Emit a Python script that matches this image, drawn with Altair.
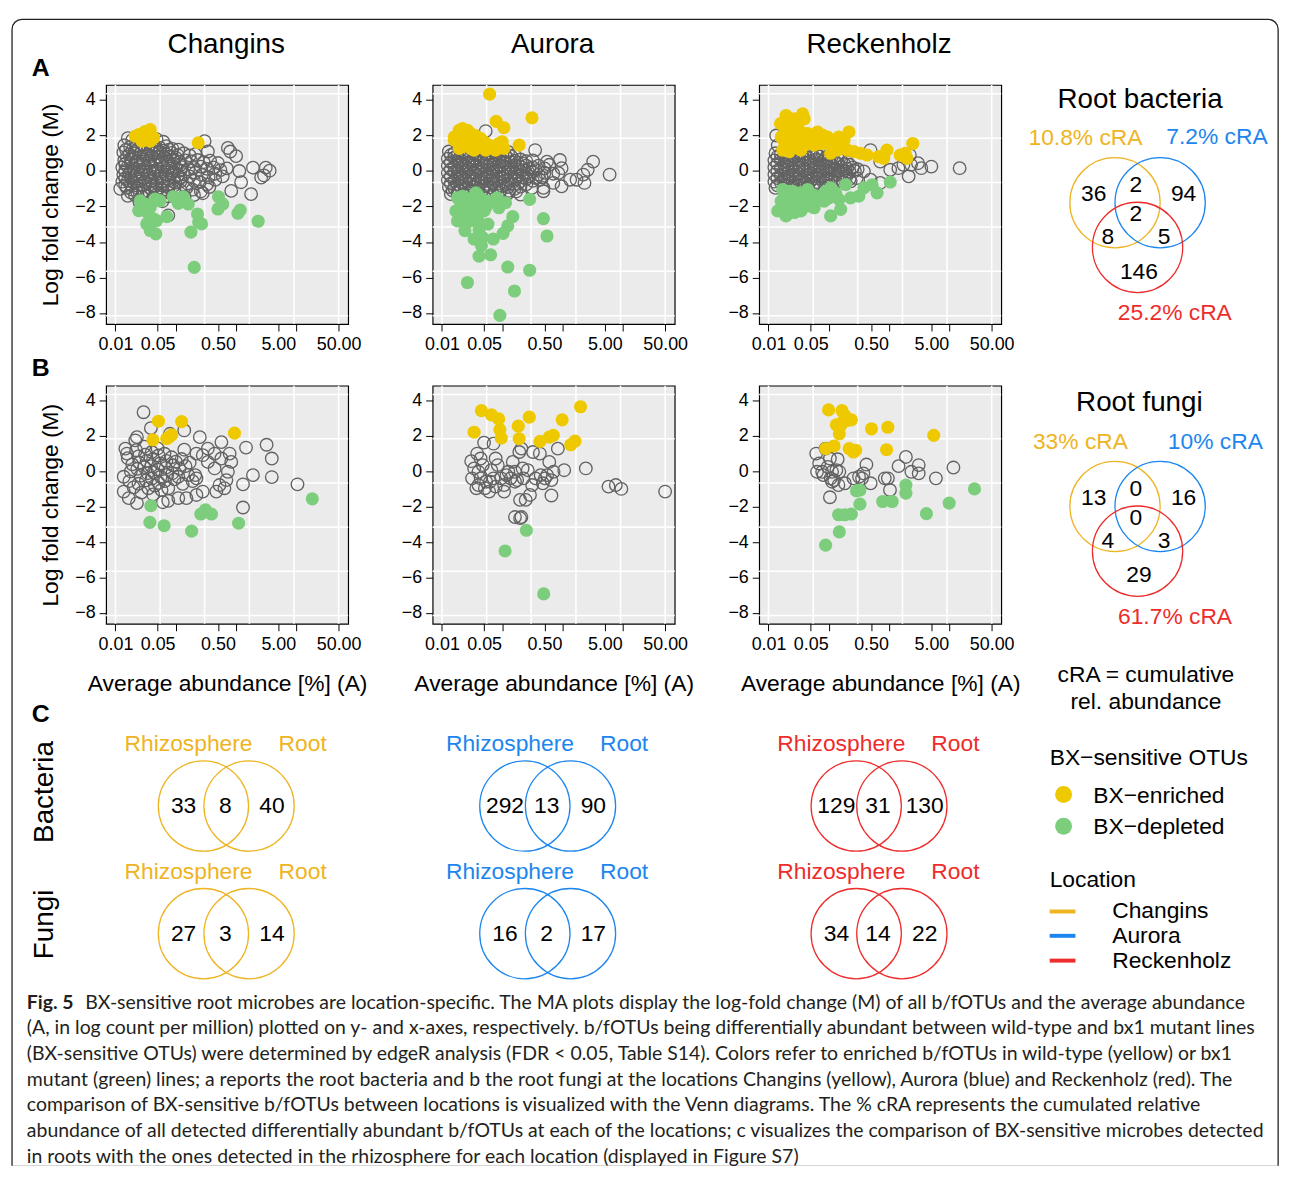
import altair as alt
import pandas as pd

FONT = "Liberation Sans, Arial, Helvetica, sans-serif"
CAP_FONT = "Lato, sans-serif"

# the page is photographed slightly reduced; K enlarges the layout to compensate
K = 1.0076

LOCATIONS = ["Changins", "Aurora", "Reckenholz"]
LOC_COLORS = ["#EEB422", "#1C86EE", "#EE2C2C"]
ENRICHED_COLOR = "#EEC900"
DEPLETED_COLOR = "#7CCD7C"
GRAY = "#626262"
PANEL_BG = "#EBEBEB"

# ---------------- axes of the MA plots ----------------
X_TICKS = [0.01, 0.05, 0.1, 0.5, 1, 5, 10, 50]
X_LABELED = "[0.01, 0.05, 0.5, 5, 50]"
Y_TICKS = [-8, -6, -4, -2, 0, 2, 4]
GRID_X = [0.01, 0.055, 0.30, 1.66, 9.1, 50]
GRID_Y = [-8.15, -5.65, -3.15, -0.65, 1.85, 4.35]
X_DOMAIN = [0.0070, 72]
Y_DOMAIN = [-8.62, 4.85]

# ---------------- A: root bacteria ----------------
A1_ENR = [(0.0243, 2.05), (0.031, 2.23), (0.0377, 2.33), (0.0275, 1.68), (0.0377, 1.68),
          (0.043, 1.87), (0.0213, 1.96), (0.2355, 1.59)]
A1_DEP = [(0.0258, -1.68), (0.0243, -2.23), (0.031, -1.86), (0.0377, -2.04), (0.0455, -1.58),
          (0.055, -1.68), (0.0354, -2.42), (0.043, -2.7), (0.048, -2.79), (0.033, -2.98),
          (0.0377, -3.35), (0.0467, -3.54), (0.071, -2.57), (0.091, -1.45), (0.110, -1.82),
          (0.133, -1.45), (0.161, -1.86), (0.229, -2.42), (0.24, -2.88), (0.267, -2.98),
          (0.178, -3.44), (0.202, -5.43), (0.51, -1.45), (0.6, -1.86), (0.5, -2.14),
          (1.07, -2.38), (1.17, -2.2), (2.32, -2.83)]
A1_GRAY = [
    (0.016, 1.85), (0.019, 1.75), (0.048, 1.8), (0.062, 1.65), (0.30, 1.68),
    (0.014, 1.45), (0.0175, 1.35), (0.022, 1.4), (0.028, 1.5), (0.035, 1.38), (0.044, 1.42), (0.055, 1.3),
    (0.07, 1.4), (0.088, 1.25), (0.11, 1.2), (0.73, 1.3), (0.8, 1.1),
    (0.0135, 1.05), (0.017, 0.95), (0.021, 1.0), (0.027, 1.08), (0.034, 0.92), (0.043, 1.0), (0.054, 1.05),
    (0.068, 0.95), (0.085, 1.02), (0.107, 0.9), (0.135, 1.0), (0.17, 0.88), (0.21, 0.95), (0.34, 1.1),
    (0.014, 0.6), (0.018, 0.65), (0.023, 0.55), (0.029, 0.62), (0.036, 0.58), (0.045, 0.66), (0.057, 0.55),
    (0.072, 0.6), (0.09, 0.64), (0.115, 0.52), (0.145, 0.6), (0.18, 0.55), (0.23, 0.62), (0.29, 0.5),
    (0.37, 0.58), (0.5, 0.45), (1.0, 0.84),
    (0.013, 0.2), (0.016, 0.25), (0.02, 0.15), (0.025, 0.22), (0.032, 0.18), (0.04, 0.26), (0.05, 0.12),
    (0.063, 0.2), (0.08, 0.24), (0.1, 0.15), (0.125, 0.22), (0.16, 0.1), (0.2, 0.18), (0.26, 0.25),
    (0.33, 0.12), (0.42, 0.2), (0.55, 0.05), (0.7, 0.15), (1.9, 0.19), (3.1, 0.19), (3.6, 0.02),
    (0.0135, -0.2), (0.017, -0.15), (0.021, -0.25), (0.027, -0.18), (0.034, -0.22), (0.043, -0.12),
    (0.054, -0.28), (0.068, -0.2), (0.085, -0.15), (0.107, -0.25), (0.135, -0.18), (0.17, -0.3),
    (0.21, -0.1), (0.27, -0.22), (0.35, -0.35), (0.45, -0.15), (0.6, -0.3), (1.13, 0.0), (2.6, -0.37),
    (2.9, -0.25),
    (0.013, -0.6), (0.016, -0.55), (0.02, -0.65), (0.025, -0.58), (0.031, -0.62), (0.039, -0.55),
    (0.049, -0.68), (0.062, -0.6), (0.078, -0.52), (0.098, -0.65), (0.12, -0.58), (0.155, -0.7),
    (0.2, -0.55), (0.25, -0.62), (0.33, -0.75), (0.45, -0.5), (1.21, -0.63),
    (0.012, -1.0), (0.0155, -0.95), (0.019, -1.05), (0.024, -0.98), (0.03, -1.1), (0.038, -0.95),
    (0.048, -1.02), (0.06, -1.08), (0.075, -0.92), (0.095, -1.0), (0.12, -1.1), (0.15, -0.95),
    (0.19, -1.05), (0.26, -1.15), (0.36, -0.9), (0.83, -1.12),
    (0.016, -1.4), (0.021, -1.35), (0.027, -1.45), (0.034, -1.38), (0.044, -1.5), (0.056, -1.35),
    (0.075, -1.42), (0.1, -1.3), (0.14, -1.45), (0.2, -1.35), (0.28, -1.25), (1.77, -1.3),
    (0.025, -1.75), (0.06, -1.7), (0.075, -2.5),
    (0.015, 1.2), (0.019, 1.18), (0.024, 1.25), (0.031, 1.2), (0.039, 1.15), (0.049, 1.22), (0.062, 1.15),
    (0.078, 1.2),
    (0.0155, 0.8), (0.0195, 0.82), (0.025, 0.78), (0.032, 0.8), (0.04, 0.85), (0.05, 0.78), (0.064, 0.8),
    (0.08, 0.82), (0.1, 0.75),
    (0.0145, 0.4), (0.018, 0.42), (0.023, 0.38), (0.029, 0.4), (0.037, 0.44), (0.046, 0.36), (0.058, 0.42),
    (0.074, 0.38), (0.093, 0.42), (0.12, 0.35),
    (0.0145, 0.0), (0.018, 0.02), (0.023, -0.04), (0.029, 0.03), (0.037, -0.02), (0.046, 0.04),
    (0.058, -0.03), (0.074, 0.02), (0.093, -0.04), (0.12, 0.03),
    (0.0145, -0.4), (0.018, -0.38), (0.023, -0.42), (0.029, -0.4), (0.037, -0.36), (0.046, -0.44),
    (0.058, -0.38), (0.074, -0.42), (0.093, -0.4), (0.12, -0.38),
    (0.0145, -0.8), (0.018, -0.78), (0.023, -0.82), (0.029, -0.8), (0.037, -0.76), (0.046, -0.84),
    (0.058, -0.8), (0.074, -0.78), (0.093, -0.82),
    (0.018, -1.2), (0.023, -1.22), (0.029, -1.18), (0.037, -1.24), (0.046, -1.2), (0.058, -1.22),
    (0.074, -1.2)]

A2_ENR = [(0.016, 1.92), (0.0193, 2.30), (0.0219, 2.39), (0.0264, 2.30), (0.030, 2.11), (0.0219, 1.92),
          (0.0193, 1.65), (0.016, 1.74), (0.034, 1.65), (0.0386, 1.92), (0.0438, 1.83), (0.0497, 1.65),
          (0.041, 1.37), (0.053, 1.18), (0.060, 1.46), (0.0726, 1.37), (0.0877, 1.55), (0.0995, 1.65),
          (0.106, 1.27), (0.0773, 1.18), (0.0219, 1.37), (0.030, 1.27), (0.034, 1.18), (0.0193, 1.27),
          (0.0264, 1.55), (0.045, 1.5), (0.0615, 4.33), (0.079, 2.8), (0.106, 2.44), (0.31, 3.0),
          (0.19, 1.46), (0.025, 2.0), (0.028, 1.75), (0.036, 2.0)]
A2_DEP = [(0.0181, -1.51), (0.0219, -1.42), (0.0264, -1.6), (0.0319, -1.51), (0.0386, -1.32),
          (0.0466, -1.6), (0.0564, -1.7), (0.0206, -1.88), (0.0249, -2.07), (0.030, -1.88),
          (0.0362, -2.16), (0.0438, -1.97), (0.053, -2.07), (0.060, -1.79), (0.017, -2.25),
          (0.0206, -2.44), (0.0264, -2.34), (0.034, -2.53), (0.0411, -2.34), (0.0497, -2.25),
          (0.0181, -2.81), (0.0233, -2.72), (0.030, -2.81), (0.0386, -2.72), (0.0362, -1.23),
          (0.0822, -1.51), (0.0934, -1.88), (0.113, -1.79), (0.0877, -2.07),
          (0.284, -1.6), (0.149, -2.57), (0.123, -3.09), (0.103, -3.51), (0.0577, -2.99),
          (0.0411, -3.31), (0.034, -3.83), (0.0466, -3.73), (0.0707, -3.83), (0.045, -4.2),
          (0.0411, -4.8), (0.064, -4.72), (0.123, -5.41), (0.284, -5.59), (0.48, -2.68),
          (0.55, -3.66), (0.024, -3.36), (0.0264, -6.28), (0.159, -6.76), (0.091, -8.13)]
A2_GRAY = [
    (0.053, 2.25), (0.35, 1.18),
    (0.013, 1.1), (0.016, 1.0), (0.02, 1.15), (0.025, 1.05), (0.032, 1.1), (0.04, 0.98), (0.05, 1.12),
    (0.063, 1.0), (0.08, 1.05), (0.1, 0.95), (0.125, 1.08), (0.16, 0.9),
    (0.0125, 0.7), (0.016, 0.75), (0.02, 0.65), (0.025, 0.72), (0.032, 0.6), (0.04, 0.75), (0.05, 0.68),
    (0.063, 0.62), (0.08, 0.72), (0.1, 0.6), (0.125, 0.7), (0.16, 0.58), (0.2, 0.65), (0.25, 0.55),
    (0.32, 0.6), (0.55, 0.53), (0.9, 0.62), (3.2, 0.53),
    (0.0125, 0.3), (0.016, 0.25), (0.02, 0.35), (0.025, 0.28), (0.032, 0.32), (0.04, 0.22), (0.05, 0.3),
    (0.063, 0.35), (0.08, 0.25), (0.1, 0.3), (0.125, 0.2), (0.16, 0.32), (0.2, 0.25), (0.25, 0.3),
    (0.32, 0.2), (0.4, 0.3), (0.5, 0.15), (0.6, 0.35), (0.96, 0.16), (2.6, 0.07),
    (0.0125, -0.1), (0.016, -0.05), (0.02, -0.15), (0.025, -0.08), (0.032, -0.12), (0.04, -0.02),
    (0.05, -0.15), (0.063, -0.1), (0.08, -0.05), (0.1, -0.15), (0.125, -0.08), (0.16, -0.12),
    (0.2, -0.02), (0.25, -0.15), (0.32, -0.05), (0.4, -0.2), (0.5, -0.1), (0.7, -0.15), (0.85, -0.12),
    (2.2, -0.2), (6.0, -0.2),
    (0.0125, -0.5), (0.016, -0.55), (0.02, -0.45), (0.025, -0.52), (0.032, -0.48), (0.04, -0.58),
    (0.05, -0.45), (0.063, -0.5), (0.08, -0.55), (0.1, -0.42), (0.125, -0.52), (0.16, -0.48),
    (0.2, -0.58), (0.25, -0.45), (0.32, -0.55), (0.42, -0.5), (0.7, -0.67), (1.33, -0.49),
    (1.7, -0.49), (2.3, -0.67),
    (0.013, -0.9), (0.016, -0.95), (0.02, -0.85), (0.025, -0.92), (0.032, -0.88), (0.04, -0.98),
    (0.05, -0.85), (0.063, -0.92), (0.08, -0.95), (0.1, -0.85), (0.125, -0.9), (0.16, -1.0),
    (0.2, -0.88), (0.31, -0.95), (0.48, -0.95), (0.96, -0.86),
    (0.014, -1.3), (0.018, -1.25), (0.023, -1.35), (0.03, -1.28), (0.04, -1.32), (0.055, -1.25),
    (0.07, -1.35), (0.09, -1.2), (0.12, -1.3), (0.2, -1.33), (0.48, -1.14),
    (0.014, 0.9), (0.018, 0.88), (0.022, 0.92), (0.028, 0.86), (0.036, 0.9), (0.045, 0.85), (0.056, 0.92),
    (0.07, 0.88), (0.09, 0.85), (0.112, 0.9), (0.14, 0.82),
    (0.014, 0.5), (0.018, 0.52), (0.022, 0.46), (0.028, 0.5), (0.036, 0.54), (0.045, 0.48), (0.056, 0.5),
    (0.07, 0.45), (0.09, 0.52), (0.112, 0.48), (0.14, 0.5), (0.18, 0.45), (0.22, 0.42),
    (0.014, 0.1), (0.018, 0.08), (0.022, 0.12), (0.028, 0.1), (0.036, 0.06), (0.045, 0.12), (0.056, 0.08),
    (0.07, 0.1), (0.09, 0.05), (0.112, 0.12), (0.14, 0.08), (0.18, 0.1), (0.22, 0.05), (0.28, 0.12),
    (0.36, 0.05),
    (0.014, -0.3), (0.018, -0.28), (0.022, -0.32), (0.028, -0.3), (0.036, -0.26), (0.045, -0.34),
    (0.056, -0.3), (0.07, -0.28), (0.09, -0.32), (0.112, -0.28), (0.14, -0.34), (0.18, -0.3),
    (0.22, -0.35), (0.28, -0.3), (0.36, -0.4), (0.45, -0.35),
    (0.014, -0.7), (0.018, -0.72), (0.022, -0.68), (0.028, -0.7), (0.036, -0.74), (0.045, -0.66),
    (0.056, -0.72), (0.07, -0.7), (0.09, -0.68), (0.112, -0.74), (0.14, -0.7), (0.18, -0.72),
    (0.25, -0.75),
    (0.015, -1.1), (0.019, -1.12), (0.024, -1.08), (0.03, -1.1), (0.038, -1.14), (0.048, -1.06),
    (0.06, -1.12), (0.075, -1.1), (0.095, -1.08), (0.13, -1.12), (0.17, -1.15)]

A3_ENR = [(0.0158, 2.67), (0.0195, 3.13), (0.0268, 2.94), (0.0367, 3.22), (0.0304, 2.67), (0.0236, 2.39),
          (0.0183, 2.11), (0.0162, 1.92), (0.0208, 1.83), (0.0268, 2.02), (0.0344, 2.2), (0.0444, 2.11),
          (0.0536, 1.92), (0.0648, 2.2), (0.0783, 2.02), (0.0946, 1.92), (0.0472, 1.55), (0.0344, 1.46),
          (0.0251, 1.37), (0.0195, 1.46), (0.0183, 1.65), (0.0304, 1.65), (0.0571, 1.46), (0.0735, 1.55),
          (0.107, 1.37), (0.147, 1.92), (0.178, 1.74), (0.215, 2.2), (0.122, 1.55), (0.138, 1.18),
          (0.107, 1.0), (0.202, 1.18), (0.26, 1.09), (0.334, 1.0), (0.43, 0.9), (0.67, 0.81),
          (0.918, 1.18), (0.81, 0.72), (1.52, 0.9), (1.84, 1.0), (1.96, 0.72), (2.46, 1.55),
          (0.0221, 1.09), (0.0172, 1.18), (0.0344, 1.18), (0.0391, 2.94), (0.0251, 2.57)]
A3_DEP = [(0.0142, -2.25), (0.0195, -2.53), (0.0162, -1.7), (0.0183, -1.32), (0.0221, -1.14),
          (0.0268, -1.51), (0.0304, -1.88), (0.0344, -1.23), (0.0391, -1.6), (0.0444, -1.04),
          (0.0536, -1.32), (0.0607, -1.7), (0.0735, -1.42), (0.0888, -1.14), (0.107, -0.95),
          (0.13, -1.23), (0.0268, -2.34), (0.0344, -2.25), (0.0444, -1.97), (0.0571, -2.07),
          (0.0208, -1.97), (0.0251, -1.14), (0.0172, -1.04), (0.0834, -1.7), (0.101, -1.51),
          (0.157, -2.16), (0.147, -1.6), (0.19, -0.77), (0.229, -1.51), (0.314, -1.42),
          (0.38, -0.95), (0.52, -0.77), (0.63, -1.23), (1.04, -0.62), (0.107, -2.53)]
A3_GRAY = [
    (0.0134, 2.0), (0.0142, 1.45),
    (0.013, 1.0), (0.016, 0.95), (0.02, 1.05), (0.025, 0.9), (0.032, 1.0), (0.04, 0.95), (0.05, 1.05),
    (0.063, 0.9), (0.08, 0.95), (0.1, 0.9), (0.49, 1.18),
    (0.0125, 0.6), (0.016, 0.65), (0.02, 0.55), (0.025, 0.62), (0.032, 0.58), (0.04, 0.65), (0.05, 0.55),
    (0.063, 0.62), (0.08, 0.58), (0.1, 0.65), (0.125, 0.55), (0.16, 0.6), (0.2, 0.52), (0.71, 0.53),
    (2.2, 0.9),
    (0.0125, 0.2), (0.016, 0.15), (0.02, 0.25), (0.025, 0.18), (0.032, 0.22), (0.04, 0.12), (0.05, 0.2),
    (0.063, 0.25), (0.08, 0.15), (0.1, 0.2), (0.125, 0.12), (0.16, 0.22), (0.2, 0.15), (0.25, 0.2),
    (0.3, 0.1), (1.42, 0.16), (1.72, 0.35), (2.3, 0.35), (3.0, 0.44), (3.4, 0.16), (5.0, 0.25),
    (14.7, 0.16),
    (0.0125, -0.2), (0.016, -0.25), (0.02, -0.15), (0.025, -0.22), (0.032, -0.18), (0.04, -0.25),
    (0.05, -0.15), (0.063, -0.2), (0.08, -0.28), (0.1, -0.15), (0.125, -0.22), (0.16, -0.18),
    (0.2, -0.25), (0.29, -0.4), (0.38, -0.02), (1.04, 0.07), (2.1, -0.3),
    (0.0125, -0.6), (0.016, -0.65), (0.02, -0.55), (0.025, -0.62), (0.032, -0.58), (0.04, -0.65),
    (0.05, -0.55), (0.063, -0.62), (0.08, -0.6), (0.1, -0.55), (0.13, -0.65), (0.17, -0.58),
    (0.23, -0.58), (0.49, -0.49), (0.71, -0.67),
    (0.013, -0.95), (0.018, -1.0), (0.025, -0.9), (0.035, -1.0), (0.045, -0.95), (0.06, -0.9),
    (0.014, 0.8), (0.018, 0.82), (0.022, 0.78), (0.028, 0.8), (0.036, 0.84), (0.045, 0.76), (0.056, 0.8),
    (0.07, 0.82), (0.09, 0.78), (0.112, 0.8), (0.14, 0.75),
    (0.014, 0.4), (0.018, 0.38), (0.022, 0.42), (0.028, 0.4), (0.036, 0.36), (0.045, 0.44), (0.056, 0.38),
    (0.07, 0.4), (0.09, 0.42), (0.112, 0.36), (0.14, 0.4), (0.18, 0.38), (0.22, 0.35),
    (0.014, 0.0), (0.018, 0.02), (0.022, -0.02), (0.028, 0.0), (0.036, 0.04), (0.045, -0.04), (0.056, 0.02),
    (0.07, 0.0), (0.09, -0.02), (0.112, 0.04), (0.14, 0.0), (0.18, 0.02), (0.22, -0.04), (0.27, 0.0),
    (0.014, -0.4), (0.018, -0.42), (0.022, -0.38), (0.028, -0.4), (0.036, -0.44), (0.045, -0.36),
    (0.056, -0.42), (0.07, -0.4), (0.09, -0.38), (0.112, -0.44), (0.14, -0.4), (0.18, -0.42),
    (0.22, -0.45),
    (0.014, -0.8), (0.018, -0.78), (0.022, -0.82), (0.028, -0.8), (0.036, -0.76), (0.045, -0.84),
    (0.056, -0.8), (0.07, -0.78), (0.09, -0.82), (0.11, -0.8)]

# ---------------- B: root fungi ----------------
B1_ENR = [(0.0516, 2.84), (0.125, 2.82), (0.0417, 1.79), (0.0707, 1.85), (0.0855, 2.07), (0.077, 1.94),
          (0.94, 2.17)]
B1_DEP = [(0.0386, -1.94), (0.0372, -2.88), (0.064, -3.07), (0.183, -3.38), (0.26, -2.41), (0.31, -2.17),
          (0.39, -2.41), (1.1, -2.93), (18.3, -1.55)]
B1_GRAY = [
    (0.0292, 3.35), (0.0386, 2.45), (0.0227, 1.94), (0.0213, 1.76), (0.138, 2.32), (0.08, 2.13),
    (0.25, 1.94), (0.57, 1.66), (1.46, 1.35), (3.2, 1.51), (3.9, 0.73), (3.9, -0.32), (10.4, -0.73),
    (1.3, -0.73), (1.3, -2.04), (1.9, -0.21), (0.138, 1.23), (0.34, 1.29), (0.44, 1.01), (0.57, 0.73),
    (0.78, 1.01), (0.83, 0.54), (0.73, -0.02), (0.69, -0.49), (0.53, -0.77), (0.64, -0.95), (0.47, -1.14),
    (0.44, 0.17), (0.34, 0.54), (0.28, 0.92), (0.22, 1.01), (0.21, -0.21), (0.22, -0.39), (0.28, -1.14),
    (0.22, -1.33), (0.15, -1.51), (0.11, -1.51), (0.075, -1.66), (0.061, -1.74), (0.0227, -1.79),
    (0.0166, -1.51), (0.0137, -1.14), (0.0137, -0.3), (0.0146, 1.29), (0.0155, 1.01),
    (0.016, 0.75), (0.019, 0.4), (0.018, 0.0), (0.017, -0.55), (0.02, -0.9), (0.022, 1.2), (0.024, 0.85),
    (0.025, 0.5), (0.023, 0.15), (0.026, -0.25), (0.024, -0.7), (0.027, -1.2), (0.03, 1.4), (0.031, 0.95),
    (0.033, 0.6), (0.03, 0.25), (0.034, -0.1), (0.032, -0.5), (0.035, -0.95), (0.04, 1.1), (0.042, 0.7),
    (0.039, 0.3), (0.043, -0.05), (0.04, -0.4), (0.045, -0.8), (0.042, -1.3), (0.05, 1.3), (0.052, 0.9),
    (0.055, 0.45), (0.05, 0.1), (0.056, -0.3), (0.052, -0.65), (0.058, -1.05), (0.065, 1.0), (0.07, 0.6),
    (0.068, 0.2), (0.072, -0.2), (0.066, -0.55), (0.075, -0.95), (0.085, 0.8), (0.09, 0.35), (0.088, -0.1),
    (0.095, -0.45), (0.1, 0.55), (0.115, 0.15), (0.11, -0.3), (0.125, 0.7), (0.13, -0.7), (0.145, 0.3),
    (0.16, -0.2), (0.17, 0.5), (0.19, -0.55)]

B2_ENR = [(0.034, 2.22), (0.045, 3.44), (0.066, 3.2), (0.087, 2.97), (0.091, 2.37), (0.096, 1.89),
          (0.184, 2.56), (0.19, 1.85), (0.28, 3.07), (0.42, 1.7), (0.6, 1.94), (0.7, 2.04), (0.98, 2.92),
          (1.36, 1.51), (1.6, 1.72), (1.98, 3.66)]
B2_DEP = [(0.25, -3.33), (0.111, -4.5), (0.485, -6.93)]
B2_GRAY = [
    (0.0305, 0.58), (0.0341, 0.17), (0.0383, 1.01), (0.0402, -0.02), (0.0437, -0.39), (0.0474, 0.36),
    (0.0315, -0.39), (0.0371, -0.95), (0.0402, -0.77), (0.0514, -0.95), (0.0605, -1.14), (0.0626, -0.58),
    (0.0714, -0.39), (0.0498, 1.63), (0.0714, 1.57), (0.0775, 0.73), (0.084, 0.36), (0.0957, -0.39),
    (0.107, -0.77), (0.117, -0.21), (0.126, -0.02), (0.149, 0.54), (0.162, -0.58), (0.176, -0.49),
    (0.191, 1.10), (0.207, 1.29), (0.217, 0.17), (0.224, -0.39), (0.197, -1.61), (0.197, -2.64),
    (0.244, -1.61), (0.287, -1.33), (0.322, 1.10), (0.355, -0.39), (0.419, 1.01), (0.432, -0.21),
    (0.509, -0.39), (0.553, -0.21), (0.6, 0.54), (0.651, -0.49), (0.707, -0.02), (0.832, 1.29),
    (1.06, 0.07), (0.651, -1.36), (0.162, -2.58), (0.207, -2.58), (2.42, 0.17), (5.75, -0.86),
    (7.6, -0.77), (9.4, -0.99), (49.9, -1.14), (0.0437, 0.73), (0.054, -0.58), (0.0658, 0.07),
    (0.0775, -0.86), (0.107, -1.14), (0.137, -0.39), (0.264, 0.07), (0.312, -0.77), (0.469, -0.67),
    (0.162, -0.02)]

B3_ENR = [(0.099, 3.48), (0.165, 3.44), (0.184, 3.16), (0.2, 2.88), (0.236, 2.92), (0.133, 2.64),
          (0.157, 2.6), (0.149, 2.13), (0.17, 2.79), (0.0883, 1.29), (0.122, 1.44), (0.217, 1.29),
          (0.256, 1.1), (0.278, 1.2), (0.509, 2.41), (0.95, 2.5), (0.904, 1.23), (5.47, 2.04)]
B3_DEP = [(0.0883, -4.17), (0.149, -3.42), (0.145, -2.45), (0.184, -2.45), (0.236, -2.41), (0.287, -1.1),
          (0.327, -1.05), (0.327, -1.85), (0.78, -1.7), (1.12, -1.7), (1.89, -0.77), (1.89, -1.23),
          (4.14, -2.39), (9.87, -1.79), (25.9, -0.99)]
B3_GRAY = [
    (0.0616, 1.01), (0.069, 0.45), (0.0637, -0.02), (0.0813, -0.21), (0.0883, 1.29), (0.104, 0.73),
    (0.0958, 0.26), (0.107, -0.39), (0.113, -0.58), (0.122, -0.49), (0.133, 0.07), (0.14, 0.69),
    (0.149, -0.02), (0.104, -1.46), (0.256, -0.39), (0.316, -0.3), (0.373, -0.11), (0.419, 0.39),
    (0.493, -0.67), (0.845, -0.39), (0.95, -0.39), (1.03, -1.05), (1.43, 0.3), (1.89, 0.82),
    (2.33, -0.02), (3.08, 0.36), (3.08, -0.11), (5.94, -0.39), (11.6, 0.22), (0.0775, -0.02),
    (0.144, -0.77), (0.184, -0.67), (0.355, -0.39), (0.113, -0.02)]

# ---------------- Venn diagrams (root, three locations) ----------------
VENN3_REGIONS = ["Changins only", "Changins & Aurora", "Aurora only", "all three",
                 "Changins & Reckenholz", "Aurora & Reckenholz", "Reckenholz only"]
ROOT_BACTERIA_COUNTS = [36, 2, 94, 2, 8, 5, 146]
ROOT_FUNGI_COUNTS = [13, 0, 16, 0, 4, 3, 29]
ROOT_BACTERIA_CRA = ["10.8% cRA", "7.2% cRA", "25.2% cRA"]
ROOT_FUNGI_CRA = ["33% cRA", "10% cRA", "61.7% cRA"]

# layout of the three-set Venn in units of the circle radius
VENN3_CENTERS = [(-0.5, 0.0), (0.5, 0.0), (0.0, -0.99)]
VENN3_REGION_POS = [(-0.97, 0.18), (-0.04, 0.38), (1.02, 0.18), (-0.04, -0.26),
                    (-0.66, -0.76), (0.59, -0.76), (0.03, -1.53)]
BAC_CRA_POS = [(-1.153, 1.437), (1.76, 1.444), (0.825, -2.446)]
FUN_CRA_POS = [(-1.265, 1.42), (1.724, 1.42), (0.83, -2.46)]
VENN_X_DOMAIN = [-1.148, 3.291]

# ---------------- C: rhizosphere vs root ----------------
KINGDOMS = ["Bacteria", "Fungi"]
RHIZO_ROOT_BACTERIA = {"Changins": (33, 8, 40), "Aurora": (292, 13, 90), "Reckenholz": (129, 31, 130)}
RHIZO_ROOT_FUNGI = {"Changins": (27, 3, 14), "Aurora": (16, 2, 17), "Reckenholz": (34, 14, 22)}

BX_CLASSES = ["BX\u2212enriched", "BX\u2212depleted"]

CAPTION_FIRST = "BX-sensitive root microbes are location-specific. The MA plots display the log-fold change (M) of all b/fOTUs and the average abundance"
CAPTION_LINES = [
    "(A, in log count per million) plotted on y- and x-axes, respectively. b/fOTUs being differentially abundant between wild-type and bx1 mutant lines",
    "(BX-sensitive OTUs) were determined by edgeR analysis (FDR < 0.05, Table S14). Colors refer to enriched b/fOTUs in wild-type (yellow) or bx1",
    "mutant (green) lines; a reports the root bacteria and b the root fungi at the locations Changins (yellow), Aurora (blue) and Reckenholz (red). The",
    "comparison of BX-sensitive b/fOTUs between locations is visualized with the Venn diagrams. The % cRA represents the cumulated relative",
    "abundance of all detected differentially abundant b/fOTUs at each of the locations; c visualizes the comparison of BX-sensitive microbes detected",
    "in roots with the ones detected in the rhizosphere for each location (displayed in Figure S7)",
]

ONE = pd.DataFrame({"k": [0]})
LOC_SCALE = alt.Scale(domain=LOCATIONS, range=LOC_COLORS)
LABEL_EXPR = "indexof(" + X_LABELED + ", datum.value) >= 0 ? format(datum.value, '.2f') : ''"

# ---------------- layout (pixel sizes, scaled by K) ----------------
PANEL_W = 244 * K
ROW_H = [241 * K, 240 * K]
VENN_W = 202 * K
COL_GAP = 85 * K
ROW_GAP = 62 * K
FIRST_W = 104 * K - 8 - COL_GAP          # first (narrow) column, so MA plots start at 104 px
CANVAS_W, CANVAS_H = 1289, 1167
Y0 = 80 * K - 13                          # top of row A inside the canvas
Y1 = Y0 + ROW_H[0] + ROW_GAP              # top of row B inside the canvas


def fs(v):
    return round(v * K, 2)


def scatter(gray, enr, dep, ytitle=False, xtitle=False, height=ROW_H[0]):
    xs = alt.Scale(type="log", domain=X_DOMAIN, nice=False)
    ys = alt.Scale(domain=Y_DOMAIN, nice=False, zero=False)
    xa = alt.Axis(values=X_TICKS, labelExpr=LABEL_EXPR, grid=False, domain=False,
                  tickColor="black", tickSize=fs(7), tickWidth=1, labelFont=FONT, labelFontSize=fs(18),
                  labelColor="black", labelPadding=fs(5), labelOverlap=False, labelFlush=False,
                  title=("Average abundance [%] (A)" if xtitle else None), titleFont=FONT,
                  titleFontSize=fs(23), titleFontWeight="normal", titleColor="black",
                  titlePadding=fs(20))
    ya = alt.Axis(values=Y_TICKS, grid=False, domain=False, tickColor="black", tickSize=fs(7),
                  tickWidth=1, labelFont=FONT, labelFontSize=fs(18), labelColor="black",
                  labelPadding=fs(4), labelOverlap=False, labelFlush=False,
                  title=("Log fold change (M)" if ytitle else None), titleFont=FONT,
                  titleFontSize=fs(23), titleFontWeight="normal", titleColor="black",
                  titlePadding=fs(13))
    X = alt.X("x:Q", scale=xs, axis=xa)
    Y = alt.Y("y:Q", scale=ys, axis=ya)
    gx = alt.Chart(pd.DataFrame({"x": GRID_X})).mark_rule(color="white", strokeWidth=1.6).encode(x=X)
    gy = alt.Chart(pd.DataFrame({"y": GRID_Y})).mark_rule(color="white", strokeWidth=1.6).encode(y=Y)
    pg = alt.Chart(pd.DataFrame(gray, columns=["x", "y"])).mark_point(
        shape="circle", filled=False, size=160 * K * K, strokeWidth=1.35, color=GRAY,
        opacity=1).encode(x=X, y=Y)
    pdp = alt.Chart(pd.DataFrame(dep, columns=["x", "y"])).mark_point(
        shape="circle", filled=True, size=175 * K * K, color=DEPLETED_COLOR, opacity=1).encode(x=X, y=Y)
    pe = alt.Chart(pd.DataFrame(enr, columns=["x", "y"])).mark_point(
        shape="circle", filled=True, size=175 * K * K, color=ENRICHED_COLOR, opacity=1).encode(x=X, y=Y)
    return alt.layer(gx, gy, pg, pdp, pe).properties(
        width=PANEL_W, height=height,
        view=alt.ViewBackground(fill=PANEL_BG, stroke="black", strokeWidth=1.2))


def venn3(counts, cra, cra_pos, title, title_pos, ydom, height):
    vx = alt.Scale(domain=VENN_X_DOMAIN, nice=False, zero=False)
    vy = alt.Scale(domain=ydom, nice=False, zero=False)
    X = alt.X("x:Q", scale=vx, axis=None)
    Y = alt.Y("y:Q", scale=vy, axis=None)
    circ = pd.DataFrame({"loc": LOCATIONS, "x": [c[0] for c in VENN3_CENTERS],
                         "y": [c[1] for c in VENN3_CENTERS]})
    nums = pd.DataFrame({"region": VENN3_REGIONS, "t": [str(c) for c in counts],
                         "x": [p[0] for p in VENN3_REGION_POS], "y": [p[1] for p in VENN3_REGION_POS]})
    cdf = pd.DataFrame({"loc": LOCATIONS, "t": cra, "x": [p[0] for p in cra_pos],
                        "y": [p[1] for p in cra_pos]})
    tdf = pd.DataFrame({"t": [title], "x": [title_pos[0]], "y": [title_pos[1]]})
    c = alt.Chart(circ).mark_point(shape="circle", filled=False, size=8281 * K * K, strokeWidth=1.3,
                                   opacity=1).encode(
        x=X, y=Y, color=alt.Color("loc:N", scale=LOC_SCALE, legend=None))
    n = alt.Chart(nums).mark_text(font=FONT, fontSize=fs(23), color="black", baseline="middle").encode(
        x=X, y=Y, text="t:N")
    r = alt.Chart(cdf).mark_text(font=FONT, fontSize=fs(23), baseline="middle").encode(
        x=X, y=Y, text="t:N", color=alt.Color("loc:N", scale=LOC_SCALE, legend=None))
    t = alt.Chart(tdf).mark_text(font=FONT, fontSize=fs(28), color="black", baseline="middle").encode(
        x=X, y=Y, text="t:N")
    return alt.layer(c, n, r, t).properties(width=VENN_W, height=height)


def letter(ch, dy):
    return alt.Chart(ONE).mark_text(text=ch, font=FONT, fontSize=fs(25), fontWeight="bold",
                                    color="black", baseline="middle").encode(
        x=alt.value(39 * K - 8), y=alt.value(dy * K))


# ---------------- first cell (row A): canvas, border, column titles, "A" ----------------
AXS = alt.Scale(domain=[0, FIRST_W / K], nice=False, zero=False)
AYS = alt.Scale(domain=[-241, 0], nice=False, zero=False, reverse=True)
canvas = alt.Chart(ONE).mark_rect(fill="transparent").encode(
    x=alt.value(0), x2=alt.value(CANVAS_W), y=alt.value(-Y0), y2=alt.value(CANVAS_H - Y0))
border = alt.Chart(ONE).mark_rect(
    fill="transparent", stroke="#222222", strokeWidth=1.3,
    cornerRadiusTopLeft=10, cornerRadiusTopRight=10).encode(
    x=alt.value(2.1), x2=alt.value(CANVAS_W - 1), y=alt.value(1 - Y0), y2=alt.value(CANVAS_H - 1 - Y0))
col_titles = alt.Chart(pd.DataFrame({"t": LOCATIONS, "x": [218, 547, 876],
                                     "y": [-32 - 241] * 3})).mark_text(
    font=FONT, fontSize=fs(28), color="black", baseline="alphabetic").encode(
    x=alt.X("x:Q", scale=AXS, axis=None), y=alt.Y("y:Q", scale=AYS, axis=None), text="t:N")
cellA = alt.layer(canvas, border, col_titles, letter("A", -17)).properties(
    width=FIRST_W, height=ROW_H[0])

# ---------------- first cell (row B): "B", panel C, legend, caption ----------------
# bottom-block coordinates in reference pixels, origin at (8, 623)
BXS = alt.Scale(domain=[0, FIRST_W / K], nice=False, zero=False)
BYS = alt.Scale(domain=[-240, 0], nice=False, zero=False, reverse=True)
BX = alt.X("x:Q", scale=BXS, axis=None)
BY = alt.Y("y:Q", scale=BYS, axis=None)

V2_CENTER_X = dict(zip(LOCATIONS, [218, 542, 876]))
V2_CENTER_Y = dict(zip(KINGDOMS, [183.7, 312.3]))
V2_HALF = 23
V2_NUM_OFF = [-43, -1, 46]

circ_rows, num_rows, lab_rows = [], [], []
for kingdom, table in zip(KINGDOMS, [RHIZO_ROOT_BACTERIA, RHIZO_ROOT_FUNGI]):
    cy = V2_CENTER_Y[kingdom]
    for loc in LOCATIONS:
        cx = V2_CENTER_X[loc]
        circ_rows += [{"loc": loc, "x": cx - V2_HALF, "y": cy}, {"loc": loc, "x": cx + V2_HALF, "y": cy}]
        for val, off in zip(table[loc], V2_NUM_OFF):
            num_rows.append({"t": str(val), "x": cx + off, "y": cy})
        lab_rows += [{"loc": loc, "t": "Rhizosphere", "x": cx - 38, "y": cy - 62},
                     {"loc": loc, "t": "Root", "x": cx + 77, "y": cy - 62}]

v2c = alt.Chart(pd.DataFrame(circ_rows)).mark_point(
    shape="circle", filled=False, size=8281 * K * K, strokeWidth=1.3, opacity=1).encode(
    x=BX, y=BY, color=alt.Color("loc:N", scale=LOC_SCALE, legend=None))
v2n = alt.Chart(pd.DataFrame(num_rows)).mark_text(
    font=FONT, fontSize=fs(23), color="black", baseline="middle").encode(x=BX, y=BY, text="t:N")
v2l = alt.Chart(pd.DataFrame(lab_rows)).mark_text(
    font=FONT, fontSize=fs(23), baseline="middle").encode(
    x=BX, y=BY, text="t:N", color=alt.Color("loc:N", scale=LOC_SCALE, legend=None))

c_letter = alt.Chart(pd.DataFrame({"t": ["C"], "x": [31], "y": [91]})).mark_text(
    font=FONT, fontSize=fs(25), fontWeight="bold", color="black", baseline="middle").encode(
    x=BX, y=BY, text="t:N")
row_labels = alt.Chart(pd.DataFrame({"t": KINGDOMS, "x": [35, 35], "y": [169.5, 303]})).mark_text(
    font=FONT, fontSize=fs(28), color="black", angle=270, baseline="middle").encode(
    x=BX, y=BY, text="t:N")
cra_note = alt.Chart(pd.DataFrame({"t": ["cRA = cumulative", "rel. abundance"],
                                   "x": [1145, 1145], "y": [52, 79]})).mark_text(
    font=FONT, fontSize=fs(23), color="black", baseline="middle").encode(x=BX, y=BY, text="t:N")
leg_titles = alt.Chart(pd.DataFrame({"t": ["BX\u2212sensitive OTUs", "Location"],
                                     "x": [1048, 1048], "y": [135, 258]})).mark_text(
    font=FONT, fontSize=fs(23), color="black", align="left", baseline="middle").encode(
    x=BX, y=BY, text="t:N")
leg_dots = alt.Chart(pd.DataFrame({"cls": BX_CLASSES, "x": [1062, 1062], "y": [172, 204]})).mark_point(
    shape="circle", filled=True, size=290 * K * K, opacity=1).encode(
    x=BX, y=BY, fill=alt.Fill("cls:N", scale=alt.Scale(domain=BX_CLASSES,
                                                       range=[ENRICHED_COLOR, DEPLETED_COLOR]),
                              legend=None))
leg_dot_labels = alt.Chart(pd.DataFrame({"t": BX_CLASSES, "x": [1092, 1092], "y": [174, 205]})).mark_text(
    font=FONT, fontSize=fs(23), color="black", align="left", baseline="middle").encode(
    x=BX, y=BY, text="t:N")
leg_lines = alt.Chart(pd.DataFrame({"loc": LOCATIONS, "x": [1048] * 3, "x2": [1074] * 3,
                                    "y": [290, 314.5, 339.5]})).mark_rule(strokeWidth=4).encode(
    x=BX, x2="x2:Q", y=BY, color=alt.Color("loc:N", scale=LOC_SCALE, legend=None))
leg_line_labels = alt.Chart(pd.DataFrame({"t": LOCATIONS, "x": [1111] * 3,
                                          "y": [290, 315, 340]})).mark_text(
    font=FONT, fontSize=fs(23), color="black", align="left", baseline="middle").encode(
    x=BX, y=BY, text="t:N")

CAP_Y0, CAP_DY = 382, 25.9
CAP_SIZE = fs(19.6)
cap_bold = alt.Chart(pd.DataFrame({"t": ["Fig. 5"], "x": [17], "y": [CAP_Y0]})).mark_text(
    font=CAP_FONT, fontSize=CAP_SIZE, fontWeight="bold", color="#231f20", align="left",
    baseline="middle").encode(x=BX, y=BY, text="t:N")
cap_rows = [{"t": CAPTION_FIRST, "x": 76, "y": CAP_Y0}]
for i, line in enumerate(CAPTION_LINES):
    cap_rows.append({"t": line, "x": 17, "y": CAP_Y0 + CAP_DY * (i + 1)})
cap_text = alt.Chart(pd.DataFrame(cap_rows)).mark_text(
    font=CAP_FONT, fontSize=CAP_SIZE, color="#231f20", align="left", baseline="middle").encode(
    x=BX, y=BY, text="t:N")
bottom_cover = alt.Chart(ONE).mark_rule(color="white", strokeWidth=1.8).encode(
    x=alt.value(0), x2=alt.value(CANVAS_W), y=alt.value(CANVAS_H - 1 - Y1))

cellB = alt.layer(
    bottom_cover, letter("B", -18), v2c, v2n, v2l, c_letter, row_labels, cra_note, leg_titles,
    leg_dots, leg_dot_labels, leg_lines, leg_line_labels, cap_bold, cap_text
).properties(width=FIRST_W, height=ROW_H[1])

cells = [
    cellA,
    scatter(A1_GRAY, A1_ENR, A1_DEP, ytitle=True, height=ROW_H[0]),
    scatter(A2_GRAY, A2_ENR, A2_DEP, height=ROW_H[0]),
    scatter(A3_GRAY, A3_ENR, A3_DEP, height=ROW_H[0]),
    venn3(ROOT_BACTERIA_COUNTS, ROOT_BACTERIA_CRA, BAC_CRA_POS, "Root bacteria", (0.056, 2.28),
          [-2.688, 2.609], ROW_H[0]),
    cellB,
    scatter(B1_GRAY, B1_ENR, B1_DEP, ytitle=True, xtitle=True, height=ROW_H[1]),
    scatter(B2_GRAY, B2_ENR, B2_DEP, xtitle=True, height=ROW_H[1]),
    scatter(B3_GRAY, B3_ENR, B3_DEP, xtitle=True, height=ROW_H[1]),
    venn3(ROOT_FUNGI_COUNTS, ROOT_FUNGI_CRA, FUN_CRA_POS, "Root fungi", (0.04, 2.3),
          [-2.6, 2.675], ROW_H[1]),
]

chart = alt.concat(*cells, columns=5, spacing={"row": ROW_GAP, "column": COL_GAP},
                   bounds="flush").properties(
    padding=0, background="white"
).configure_view(stroke="transparent")

chart.save("out.html", embed_options={"renderer": "svg", "actions": False})
